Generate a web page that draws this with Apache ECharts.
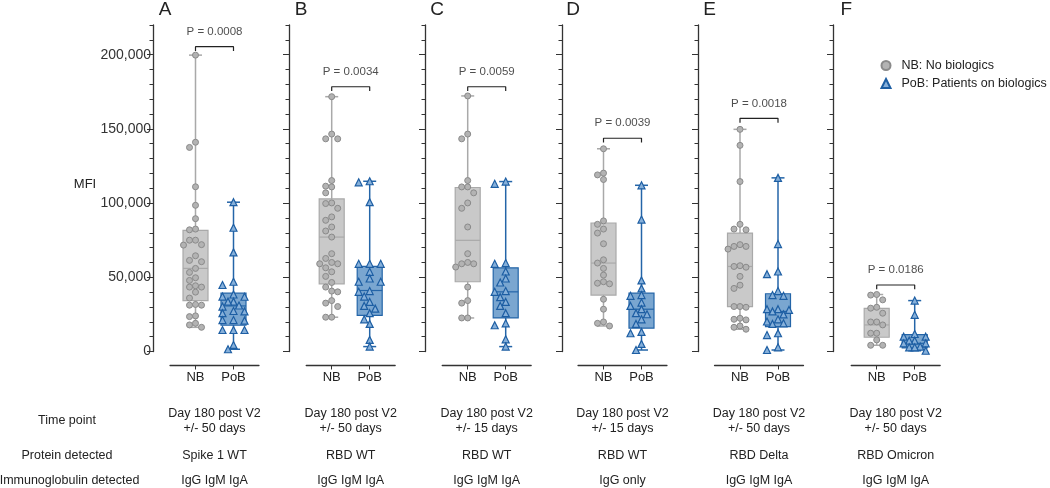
<!DOCTYPE html>
<html><head><meta charset="utf-8">
<script src="https://cdn.jsdelivr.net/npm/echarts@6/dist/echarts.min.js"></script>
<style>html,body{margin:0;padding:0;background:#fff}#c{width:1050px;height:488px}</style>
</head><body><div id="c"></div>
<script>
// ---------- data (MFI values in thousands) ----------
const panels = ['A','B','C','D','E','F'];
const groups = ['NB','PoB'];
const yTicks = [0, 50000, 100000, 150000, 200000];
const pLabels = ['P = 0.0008','P = 0.0034','P = 0.0059','P = 0.0039','P = 0.0018','P = 0.0186'];
const bracketK = [205.4, 178.4, 178.4, 143.7, 157.1, 44.8];

const nbA  = [199.7,141,137.5,111,98.5,89.5,82.5,82,75,75,72,71.7,64.5,61.4,60.5,56,53.3,49.7,47.9,44.3,43.4,43.4,40,36,31.7,31.2,31.2,24,23.5,19,17.9,16.3];
const pobA = [100.6,83.4,66.8,47,44.8,38.4,37,36.9,33.6,33.6,31,30.3,27.3,27,25.8,21.2,21.2,20.8,14.5,14.5,14.5,4.4,1.5];
const nbB  = [171.7,146.5,143.3,143.3,115.2,111.4,110.9,106.9,100.1,99.7,96.5,90.7,88.4,83.9,81.2,77.1,65.9,62.7,60,59.1,59.1,56.4,53.7,50.6,46.5,43.4,40.7,40.2,34.3,32.6,30.3,23.1,23.1];
const pobB = [114.7,114,100.6,59.1,59.1,59.1,53.7,49.2,47,47,40.7,40.2,37,33.4,30.7,28.9,25.8,21.7,18.6,7.8,3.3];
const nbC  = [172.2,146.5,143.3,115.2,110.9,110.9,106.9,100.1,96.5,83.9,65.9,60,59.1,59.1,56.9,43.4,34.3,32.6,22.6,22.6];
const pobC = [114.5,113,59.6,59.1,53.9,49.2,46.5,40.7,40.2,36.6,33.4,30.7,25.8,19,17.7,8.2,3.3];
const nbD  = [136.6,120.2,119,115.9,88,85.7,82.5,79.8,72.6,61.8,59.6,56,51.5,47,46,45.6,35.2,28.5,19.9,19,17.2];
const pobD = [112,88.9,47.9,42.5,38,37.5,33,30.7,28.5,25.8,25.1,21.7,18.6,13.2,12.3,5.1,1];
const nbE  = [149.7,138.9,114.5,85.7,82.5,82,72,70.8,70.8,69,57.8,57.3,56.8,50.6,44.7,42.5,30.3,30.3,29.8,22.4,21.7,21.3,17.2,16.3,15];
const pobE = [117,72.4,53.9,52.1,40.7,38,37.5,28.5,28.5,28,27,25,21.7,20.2,19,18.6,12.3,11.1,2.8,1];
const nbF  = [38.4,38,34.8,29.8,29.2,25.8,19.9,19.9,17.9,12.3,12.3,7.8,4.2,4.2];
const pobF = [34.3,24.7,11.8,10,10,7.3,7.3,5.5,5.5,3.3,2.8,2.8,0.5];

// box stats [min, Q1, median, Q3, max] (thousands)
const boxNB  = [[16.3,34.3,56,81.6,199.7],[23.1,45.6,77.1,102.8,171.7],[22.6,47,74.9,110.5,172.2],[17.2,38,59.6,86.6,136.6],[15,30.3,57.3,79.8,149.7],[4.2,9.6,17.9,29,38.4]];
const boxPoB = [[1.5,17.7,30.7,39.3,100.6],[3.3,24.4,41.1,57.3,114.7],[3.3,22.6,40.2,56.4,114.5],[1,15.7,28.5,39.3,112],[1,16.8,27,38.9,117],[0.5,2.4,5.5,11.4,34.3]];

const rowLabels = ['Time point','Protein detected','Immunoglobulin detected'];
const timeHead = ['Day 180 post V2','Day 180 post V2','Day 180 post V2','Day 180 post V2','Day 180 post V2','Day 180 post V2'];
const timeSub  = ['+/- 50 days','+/- 50 days','+/- 15 days','+/- 15 days','+/- 50 days','+/- 50 days'];
const proteinRow = ['Spike 1 WT','RBD WT','RBD WT','RBD WT','RBD Delta','RBD Omicron'];
const igRow = ['IgG IgM IgA','IgG IgM IgA','IgG IgM IgA','IgG only','IgG IgM IgA','IgG IgM IgA'];
const legendNames = ['NB: No biologics','PoB: Patients on biologics'];

const nbSets = [nbA,nbB,nbC,nbD,nbE,nbF];
const pobSets = [pobA,pobB,pobC,pobD,pobE,pobF];

// ---------- layout / style ----------
const FONT = "'Liberation Sans', Arial, sans-serif";
const axisX = [153, 289, 425, 562, 698, 833];
const nbX = [195.5, 331.7, 467.7, 603.5, 740, 876.7];
const GT = 25, GH = 326.5, YMAX = 220000;
const UNIT = 38, XMIN = -0.67, XMAX = 1.67;
const pxPerK = GH / (YMAX/1000);
const C = {
  axis:'#333', nbFill:'#c9c9c9', nbLine:'#a9a9a9', nbDot:'#b3b3b3', nbDotB:'#8a8a8a',
  pobFill:'#7aa6d0', pobLine:'#2465a8', pobDot:'#86b0da', pobDotB:'#1d5ea3'
};

// deterministic beeswarm spread (pixel offsets), capped width
function swarm(vals, d, step, cap) {
  const order = vals.map((v,i)=>i).sort((a,b)=>vals[b]-vals[a]);
  const placed = [], off = new Array(vals.length);
  for (const i of order) {
    const y = vals[i]*pxPerK;
    let best = 0, bestD = -1;
    for (let k=0; k<40; k++) {
      const m = Math.ceil(k/2);
      const cand = k===0 ? 0 : (k%2 ? -m*step : m*step);
      if (Math.abs(cand) > cap) break;
      const md = placed.length ? Math.min(...placed.map(p => Math.hypot(p.x-cand, p.y-y))) : Infinity;
      if (md >= d) { best = cand; bestD = md; break; }
      if (md > bestD) { bestD = md; best = cand; }
    }
    off[i] = best; placed.push({x:best, y});
  }
  return off;
}

const grid=[], xAxis=[], yAxis=[], series=[], graphic=[];
const txt = (text, x, y, size) => ({type:'text', x, y, silent:true,
  style:{text, fill:'#222', font:size+'px '+FONT, align:'center', textAlign:'center', verticalAlign:'middle', textVerticalAlign:'middle'}});
panels.forEach((p,i)=>{
  const left = nbX[i] - (0 - XMIN)*UNIT;
  grid.push({left, top:GT, width:(XMAX-XMIN)*UNIT, height:GH, containLabel:false, outerBoundsMode:'none'});
  const off = left - axisX[i];
  xAxis.push({gridIndex:i, type:'value', position:'bottom', min:XMIN, max:XMAX, offset:14,
    axisLine:{show:true, onZero:false, lineStyle:{color:C.axis, width:1.3}},
    axisTick:{show:true, customValues:[0,1], length:4, lineStyle:{color:C.axis, width:1}},
    axisLabel:{show:true, customValues:[0,1], formatter:v=>groups[Math.round(v)], fontSize:13, color:'#222', margin:5, fontFamily:FONT},
    splitLine:{show:false}});
  yAxis.push({gridIndex:i, type:'value', position:'left', min:0, max:YMAX, interval:10000, offset:off,
    axisLine:{show:true, onZero:false, lineStyle:{color:C.axis, width:1.3}},
    axisTick:{show:true, length:3.5, lineStyle:{color:C.axis, width:1}},
    axisLabel:{show:false}, splitLine:{show:false}});
  yAxis.push({gridIndex:i, type:'value', position:'left', min:0, max:YMAX, interval:50000, offset:off,
    axisLine:{show:false, onZero:false},
    axisTick:{show:true, customValues:yTicks, length:6, lineStyle:{color:C.axis, width:1}},
    axisLabel:{show:i===0, customValues:yTicks, formatter:v=>v.toLocaleString('en-US'), fontSize:14, color:'#333', margin:2, fontFamily:FONT},
    splitLine:{show:false}});
  const yi = 2*i;
  series.push({type:'custom', xAxisIndex:i, yAxisIndex:yi, z:1, silent:true,
    data:[[0,...boxNB[i].map(v=>v*1000)],[1,...boxPoB[i].map(v=>v*1000)]],
    encode:{x:0, y:[1,2,3,4,5]},
    renderItem:(params, api)=>{
      const x = api.value(0);
      const pt = k => api.coord([x, api.value(k)]);
      const [xc, yMin] = pt(1); const yQ1 = pt(2)[1], yMed = pt(3)[1], yQ3 = pt(4)[1], yMax = pt(5)[1];
      const nb = params.dataIndex===0;
      const line = nb ? C.nbLine : C.pobLine, fill = nb ? C.nbFill : C.pobFill;
      const hw = 12.5, cw = 6.5;
      const ls = {stroke:line, lineWidth:1.5};
      return {type:'group', children:[
        {type:'line', shape:{x1:xc,y1:yMax,x2:xc,y2:yMin}, style:ls},
        {type:'line', shape:{x1:xc-cw,y1:yMax,x2:xc+cw,y2:yMax}, style:ls},
        {type:'line', shape:{x1:xc-cw,y1:yMin,x2:xc+cw,y2:yMin}, style:ls},
        {type:'rect', shape:{x:xc-hw,y:yQ3,width:2*hw,height:yQ1-yQ3}, style:{fill, stroke:line, lineWidth:1.2}},
        {type:'line', shape:{x1:xc-hw,y1:yMed,x2:xc+hw,y2:yMed}, style:{stroke:line, lineWidth:1.2}}
      ]};
    }});
  const nbOff = swarm(nbSets[i], 6, 6, 12);
  series.push({type:'scatter', name:legendNames[0], xAxisIndex:i, yAxisIndex:yi, z:3, symbol:'circle', symbolSize:6,
    itemStyle:{color:C.nbDot, borderColor:C.nbDotB, borderWidth:1, opacity:1},
    data:nbSets[i].map((v,j)=>({value:[0, v*1000], symbolOffset:[nbOff[j],0]}))});
  const pobOff = swarm(pobSets[i], 6.5, 5.5, 11);
  series.push({type:'scatter', name:legendNames[1], xAxisIndex:i, yAxisIndex:yi, z:3, symbol:'triangle', symbolSize:7,
    itemStyle:{color:C.pobDot, borderColor:C.pobDotB, borderWidth:1.2, opacity:1},
    data:pobSets[i].map((v,j)=>({value:[1, v*1000], symbolOffset:[pobOff[j],0]}))});
  const b = bracketK[i]*1000, leg = 2900;
  series.push({type:'line', xAxisIndex:i, yAxisIndex:yi, z:2, symbol:'none', silent:true,
    lineStyle:{color:'#222', width:1.2}, data:[[0,b-leg],[0,b],[1,b],[1,b-leg]]});
  series.push({type:'scatter', xAxisIndex:i, yAxisIndex:yi, symbolSize:0, silent:true,
    label:{show:true, position:'top', distance:9, formatter:pLabels[i], fontSize:11.5, color:'#222', fontFamily:FONT},
    data:[[0.5, b]]});

  graphic.push(txt(p, nbX[i]-30.5, 10, 19));
  const cx = nbX[i] + UNIT/2;
  graphic.push(txt(timeHead[i], cx, 414, 12.5));
  graphic.push(txt(timeSub[i], cx, 429, 12.5));
  graphic.push(txt(proteinRow[i], cx, 456, 12.5));
  graphic.push(txt(igRow[i], cx, 481, 12.5));
});
graphic.push(txt('MFI', 85, 184, 13));
graphic.push(txt(rowLabels[0], 67, 421, 12.5));
graphic.push(txt(rowLabels[1], 67, 456, 12.5));
graphic.push(txt(rowLabels[2], 69.5, 481, 12.5));

const chart = echarts.init(document.getElementById('c'), null, {renderer:'canvas'});
chart.setOption({
  animation:false,
  backgroundColor:'#fff',
  textStyle:{fontFamily:FONT},
  legend:{data:[{name:legendNames[0], icon:'circle'},{name:legendNames[1], icon:'triangle'}],
    orient:'vertical', left:880.5, top:59, padding:0, itemWidth:9, itemHeight:9, itemGap:5, selectedMode:false,
    textStyle:{fontSize:12.5, color:'#222', fontFamily:FONT, padding:[0,0,0,6]}},
  grid, xAxis, yAxis, series, graphic
});
</script></body></html>
